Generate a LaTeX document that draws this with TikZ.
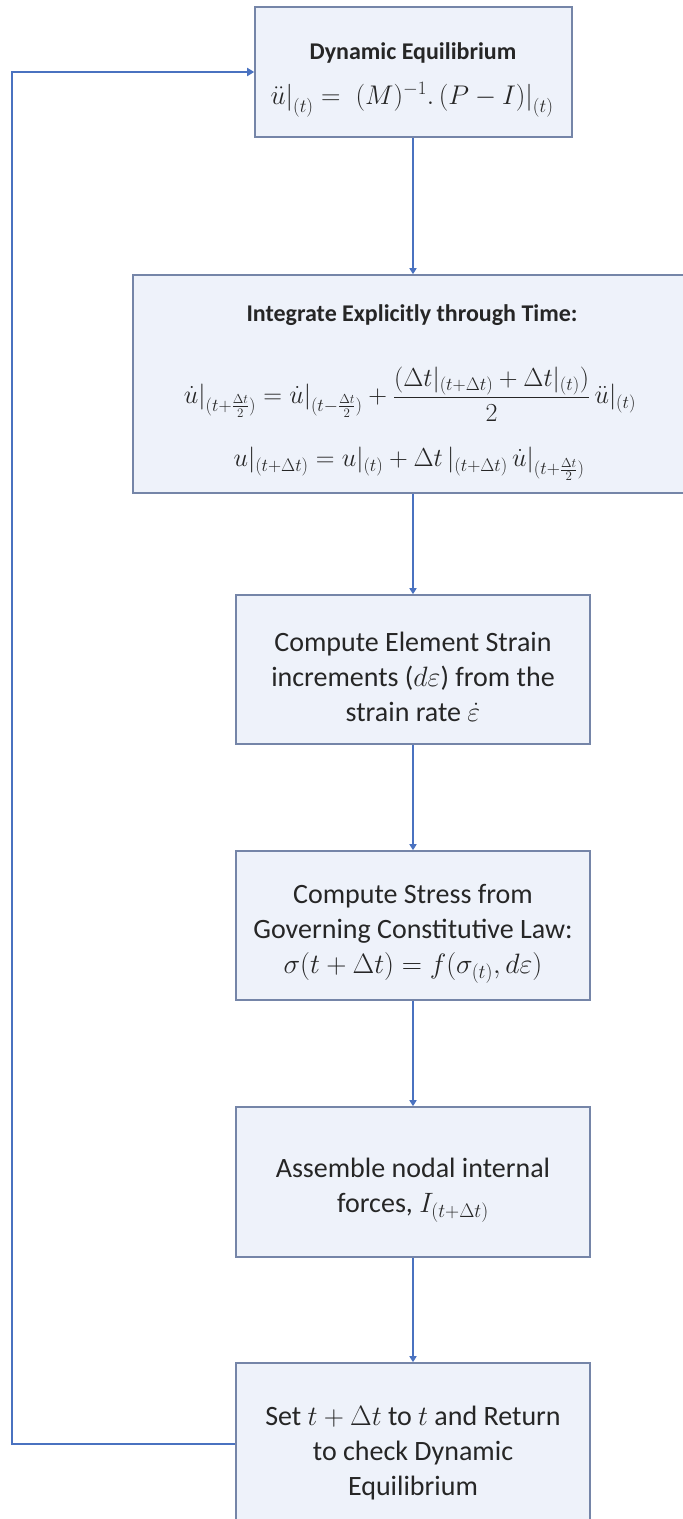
\RequirePackage{fix-cm}
\documentclass[tikz,border=0pt]{standalone}
\usepackage{fontspec}
\setmainfont{Carlito}
\usetikzlibrary{arrows.meta}
\definecolor{lineblue}{HTML}{4A72C0}
\definecolor{boxedge}{HTML}{7585A8}
\definecolor{boxfill}{HTML}{EEF2FA}
\definecolor{txt}{HTML}{262626}
\tikzset{
  flowbox/.style={draw=boxedge, line width=1.6pt, fill=boxfill,
    inner sep=0pt, minimum width=354pt, minimum height=149pt},
  boxtext/.style={text=txt, align=center, inner sep=0pt,
    font=\fontsize{28}{35}\selectfont},
  titletext/.style={text=txt, inner sep=0pt, font=\bfseries\fontsize{24}{28}\selectfont},
  mathtext/.style={text=txt, inner sep=0pt, font=\fontsize{26}{30}\selectfont},
  flowarrow/.style={draw=lineblue, line width=1.5pt, -{Triangle[width=7pt,length=6pt]}},
  looparrow/.style={draw=lineblue, line width=2.2pt, -{Triangle[width=8pt,length=7pt]}}
}
\begin{document}
\begin{tikzpicture}[x=1pt,y=-1pt]
\useasboundingbox (0,0) rectangle (683,1519);
\fill[white] (0,0) rectangle (683,1519);

% boxes
\node[flowbox, minimum width=317pt, minimum height=130pt] (top) at (413.5,72) {};
\node[flowbox, minimum width=560pt, minimum height=218pt] (integ) at (413,384) {};
\node[flowbox] (strain) at (413,669.5) {};
\node[flowbox] (stress) at (413,925.5) {};
\node[flowbox, minimum height=150pt] (assemble) at (413,1182) {};
\node[flowbox, minimum height=162pt] (setback) at (413,1444) {};

% texts
\node[titletext] (topTitle) at (413,53) {Dynamic Equilibrium};
\node[mathtext, font=\fontsize{27}{30}\selectfont] (topEq) at (412,100)
  {$\ddot{u}\big|_{(t)} =\; (M)^{-1}.\,(P-I)\big|_{(t)}$};

\node[titletext] (integTitle) at (412,315) {Integrate Explicitly through Time:};
\node[mathtext] (integEqA) at (410,394)
  {$\displaystyle \dot{u}\Big|_{(t+\frac{\Delta t}{2})} = \dot{u}\Big|_{(t-\frac{\Delta t}{2})} + \frac{(\Delta t|_{(t+\Delta t)} + \Delta t|_{(t)})}{2}\,\ddot{u}|_{(t)}$};
\node[mathtext] (integEqB) at (409,464)
  {$\displaystyle u|_{(t+\Delta t)} = u|_{(t)} + \Delta t\,|_{(t+\Delta t)}\,\dot{u}\Big|_{(t+\frac{\Delta t}{2})}$};

\node[boxtext] (strainText) at ([yshift=-7pt]strain.center)
  {Compute Element Strain\\ increments ($d\varepsilon$) from the\\ strain rate $\dot{\varepsilon}$};
\node[boxtext] (stressText) at ([yshift=-8pt]stress.center)
  {Compute Stress from\\ Governing Constitutive Law:\\ $\sigma(t+\Delta t) = f(\sigma_{(t)}, d\varepsilon)$};
\node[boxtext] (assembleText) at ([yshift=-8pt]assemble.center)
  {Assemble nodal internal\\ forces, $I_{(t+\Delta t)}$};
\node[boxtext] (setbackText) at ([yshift=-9pt]setback.center)
  {Set $t+\Delta t$ to $t$ and Return\\ to check Dynamic\\ Equilibrium};

\coordinate (loopcorner) at (12,72);

% connectors
\draw[flowarrow] (top.south -| integ.north) -- (integ.north);
\draw[flowarrow] (integ.south -| strain.north) -- (strain.north);
\draw[flowarrow] (strain.south) -- (stress.north);
\draw[flowarrow] (stress.south) -- (assemble.north);
\draw[flowarrow] (assemble.south) -- (setback.north);
\draw[looparrow] (setback.west) -| (loopcorner) -- (top.west);
\end{tikzpicture}
\end{document}
